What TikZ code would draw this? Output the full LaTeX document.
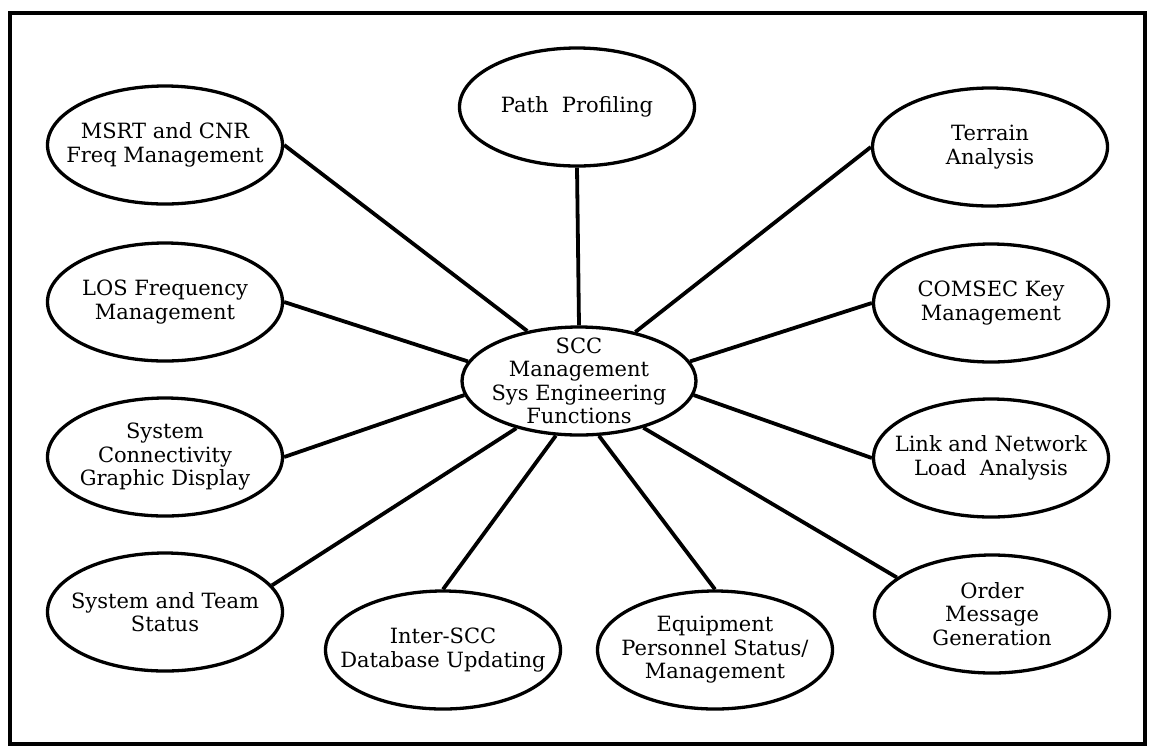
\documentclass[tikz,border=0pt]{standalone}
\usepackage{fontspec}
\setmainfont{DejaVu Serif}
\usetikzlibrary{shapes.geometric}
\tikzset{
  bubble/.style = {
    draw, ellipse, line width=3.3pt, inner sep=0pt,
    minimum width=235pt, minimum height=118pt
  },
  caption/.style = {align=center, inner sep=0pt, font=\fontsize{21}{23.5}\selectfont},
  spoke/.style = {line width=3.8pt}
}

\begin{document}
\begin{tikzpicture}[x=1pt,y=-1pt]
  \useasboundingbox (0,0) rectangle (1150,748);
  % frame
  \draw[line width=4.5pt] (10,13) rectangle (1145,744);
  % hub
  \node[bubble, minimum width=234pt, minimum height=108pt] (hub) at (579,381) {};
  \node[caption] (hub-t) at (hub) {SCC\\Management\\Sys Engineering\\Functions};
  % functions
  \foreach \n/\x/\y/\t in {
      path/577/107/{Path~~Profiling},
      msrt/165/145/{MSRT and CNR\\Freq Management},
      terr/990/147/{Terrain\\Analysis},
      los/165/302/{LOS Frequency\\Management},
      coms/991/303/{COMSEC Key\\Management},
      conn/165/457/{System\\Connectivity\\Graphic Display},
      link/991/458/{Link and Network\\Load~~Analysis},
      team/165/612/{System and Team\\Status},
      order/992/614/{Order\\Message\\Generation},
      inter/443/650/{Inter-SCC\\Database Updating},
      equip/715/650/{Equipment\\Personnel Status/\\Management}}
  {
    \node[bubble] (\n) at (\x,\y) {};
    \node[caption] (\n-t) at (\n) {\t};
  };
  % spokes
  \foreach \n/\a/\b in {path/south/90, msrt/east/136, terr/west/41,
      los/east/170, coms/west/10, conn/east/187, link/west/-7,
      team/14/217, inter/north/247, equip/north/290, order/159/324}
    \draw[spoke] (\n.\a) -- (hub.\b);
\end{tikzpicture}
\end{document}
